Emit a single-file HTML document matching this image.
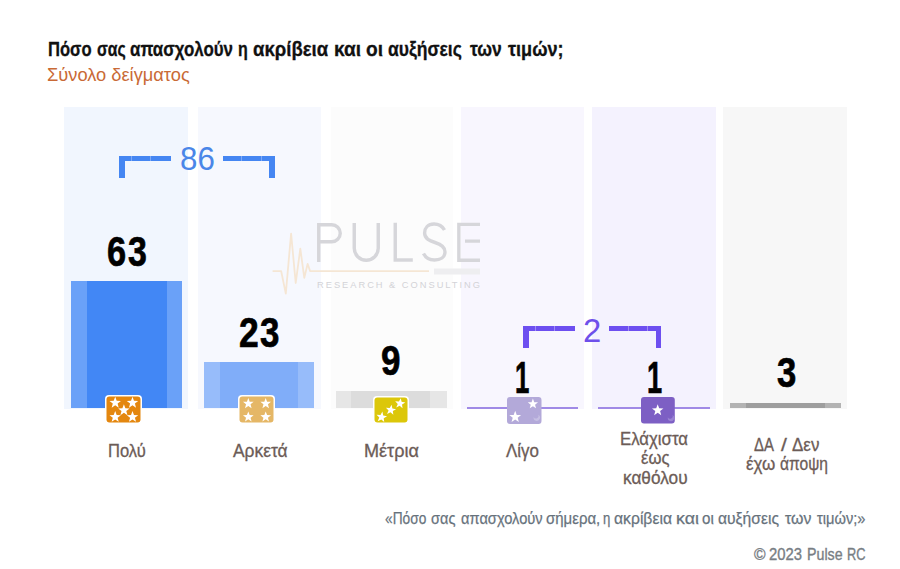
<!DOCTYPE html>
<html><head><meta charset="utf-8">
<style>
*{margin:0;padding:0;box-sizing:border-box}
html,body{width:900px;height:569px;overflow:hidden;background:#fff}
body{position:relative;font-family:"Liberation Sans", sans-serif}
.a{position:absolute}
.t{position:absolute;white-space:nowrap;line-height:1;transform-origin:0 0}
svg{position:absolute;overflow:visible}
</style></head><body>

<div class="a" style="left:64px;top:107px;width:124px;height:302px;background:#f1f6fe"></div>
<div class="a" style="left:198px;top:107px;width:123px;height:302px;background:#f6f8fe"></div>
<div class="a" style="left:331px;top:107px;width:122px;height:302px;background:#fcfcfc"></div>
<div class="a" style="left:461px;top:107px;width:123px;height:302px;background:#f8f6fe"></div>
<div class="a" style="left:592px;top:107px;width:124px;height:302px;background:#f4f2fe"></div>
<div class="a" style="left:723px;top:107px;width:124px;height:302px;background:#f7f7f7"></div>
<svg style="left:0;top:0" width="900" height="569" viewBox="0 0 900 569">
<polyline fill="none" stroke="#f5e6d4" stroke-width="1.8" stroke-linejoin="round" points="272.6,271.2 281.2,271.2 285.8,293.6 291.1,233.6 295.7,283 300.3,248.7 304.3,277.8 307.6,263.9 310.2,271.2 429,271.2"/>
<g fill="none" stroke="#d6d6da" stroke-width="3.4">
<path d="M318.75,262 V224.75 H331.75 A8.5,8.5 0 0 1 331.75,241.75 H318.75"/>
<path d="M354.25,223 V248.25 A12,12 0 0 0 378.25,248.25 V223"/>
<path d="M395.25,222.8 V260 H412.8"/>
<path d="M444.5,230 C442,225.5 437.5,224 434,224 C428,224 424.6,228 424.6,233 C424.6,239 430,241 435,242.5 C441,244.3 445,247 445,252 C445,257 440.5,260 434.5,260 C429.5,260 425.5,257.5 423.5,253.5"/>
<path d="M480,224.4 H458.85 V260.3 H480 M465,241.1 H480"/>
</g>
<rect x="434" y="268.5" width="46" height="6" fill="#eeeef0"/>
<text x="317" y="288" font-family="Liberation Sans" font-size="9.3" fill="#d3d3d7" textLength="163" lengthAdjust="spacing">RESEARCH &amp; CONSULTING</text>
</svg>
<div class="a" style="left:71.0px;top:281.0px;width:111.0px;height:127.0px;background:#6aa1f8"></div>
<div class="a" style="left:87.0px;top:281.0px;width:79.5px;height:127.0px;background:#4287f5"></div>
<div class="a" style="left:204.0px;top:362.0px;width:110.0px;height:46.0px;background:#97bcfa"></div>
<div class="a" style="left:219.6px;top:362.0px;width:78.7px;height:46.0px;background:#80adf9"></div>
<div class="a" style="left:336.0px;top:391.0px;width:110.5px;height:17.0px;background:#e6e6e6"></div>
<div class="a" style="left:351.0px;top:391.0px;width:79.0px;height:17.0px;background:#dcdcdc"></div>
<div class="a" style="left:730.4px;top:403.2px;width:110.6px;height:5.3px;background:#b3b3b3"></div>
<div class="a" style="left:746.0px;top:403.2px;width:79.4px;height:5.3px;background:#9e9e9e"></div>
<div class="a" style="left:467px;top:406.5px;width:111px;height:2px;background:#a08ae6"></div>
<div class="a" style="left:598px;top:406.5px;width:112px;height:2px;background:#a08ae6"></div>
<svg style="left:105.0px;top:395.0px" width="37.0" height="29.0" viewBox="0 0 37.0 29.0"><rect x="0" y="0" width="37.0" height="29.0" rx="4" fill="#fff"/><rect x="1.5" y="1.5" width="34.0" height="26.0" rx="3" fill="#e4870f"/><polygon fill="#fff" points="10.20,1.80 11.68,5.76 15.91,5.95 12.60,8.58 13.73,12.65 10.20,10.32 6.67,12.65 7.80,8.58 4.49,5.95 8.72,5.76"/><polygon fill="#fff" points="27.50,1.80 28.98,5.76 33.21,5.95 29.90,8.58 31.03,12.65 27.50,10.32 23.97,12.65 25.10,8.58 21.79,5.95 26.02,5.76"/><polygon fill="#fff" points="18.90,9.30 20.38,13.26 24.61,13.45 21.30,16.08 22.43,20.15 18.90,17.82 15.37,20.15 16.50,16.08 13.19,13.45 17.42,13.26"/><polygon fill="#fff" points="10.20,16.00 11.68,19.96 15.91,20.15 12.60,22.78 13.73,26.85 10.20,24.52 6.67,26.85 7.80,22.78 4.49,20.15 8.72,19.96"/><polygon fill="#fff" points="27.50,16.00 28.98,19.96 33.21,20.15 29.90,22.78 31.03,26.85 27.50,24.52 23.97,26.85 25.10,22.78 21.79,20.15 26.02,19.96"/></svg>
<svg style="left:238.0px;top:395.0px" width="37.0" height="29.0" viewBox="0 0 37.0 29.0"><rect x="0" y="0" width="37.0" height="29.0" rx="4" fill="#fff"/><rect x="1.5" y="1.5" width="34.0" height="26.0" rx="3" fill="#e5b766"/><polygon fill="#fff" points="10.30,3.00 11.68,6.70 15.63,6.87 12.54,9.33 13.59,13.13 10.30,10.95 7.01,13.13 8.06,9.33 4.97,6.87 8.92,6.70"/><polygon fill="#fff" points="27.70,3.00 29.08,6.70 33.03,6.87 29.94,9.33 30.99,13.13 27.70,10.95 24.41,13.13 25.46,9.33 22.37,6.87 26.32,6.70"/><polygon fill="#fff" points="10.30,16.40 11.68,20.10 15.63,20.27 12.54,22.73 13.59,26.53 10.30,24.35 7.01,26.53 8.06,22.73 4.97,20.27 8.92,20.10"/><polygon fill="#fff" points="27.70,16.40 29.08,20.10 33.03,20.27 29.94,22.73 30.99,26.53 27.70,24.35 24.41,26.53 25.46,22.73 22.37,20.27 26.32,20.10"/></svg>
<svg style="left:373.0px;top:395.9px" width="36.0" height="28.0" viewBox="0 0 36.0 28.0"><rect x="0" y="0" width="36.0" height="28.0" rx="4" fill="#fff"/><rect x="1.5" y="1.5" width="33.0" height="25.0" rx="3" fill="#dcc70a"/><polygon fill="#fff" points="27.75,2.15 28.58,5.87 32.32,6.56 29.04,8.49 29.54,12.27 26.68,9.75 23.25,11.38 24.77,7.89 22.15,5.13 25.94,5.50"/><polygon fill="#fff" points="18.55,8.75 19.38,12.47 23.12,13.16 19.84,15.09 20.34,18.87 17.48,16.35 14.05,17.98 15.57,14.49 12.95,11.73 16.74,12.10"/><polygon fill="#fff" points="9.38,15.55 10.23,19.41 14.11,20.13 10.71,22.13 11.23,26.04 8.27,23.43 4.71,25.13 6.28,21.51 3.57,18.65 7.50,19.02"/></svg>
<svg style="left:507.1px;top:396.7px" width="34.5" height="26.9" viewBox="0 0 34.5 26.9"><rect x="0" y="0" width="34.5" height="26.9" rx="3" fill="#b3a9d9"/><polygon fill="#fff" points="25.90,1.60 27.23,5.17 31.04,5.33 28.06,7.70 29.07,11.37 25.90,9.27 22.73,11.37 23.74,7.70 20.76,5.33 24.57,5.17"/><polygon fill="#fff" points="8.20,13.80 9.73,17.89 14.10,18.08 10.68,20.80 11.84,25.02 8.20,22.60 4.56,25.02 5.72,20.80 2.30,18.08 6.67,17.89"/><path d="M31.2,17.8 a3.2,3.2 0 1 1 -4.5,2.2 a2.4,2.4 0 1 0 4.5,-2.2z" fill="#c6bfe3"/></svg>
<svg style="left:641.1px;top:396.7px" width="33.8" height="26.6" viewBox="0 0 33.8 26.6"><rect x="0" y="0" width="33.8" height="26.6" rx="3" fill="#7d5fc4"/><polygon fill="#fff" points="16.70,7.30 18.18,11.26 22.41,11.45 19.10,14.08 20.23,18.15 16.70,15.82 13.17,18.15 14.30,14.08 10.99,11.45 15.22,11.26"/><path d="M31.4,18.1 a3.2,3.2 0 1 1 -4.5,2.2 a2.4,2.4 0 1 0 4.5,-2.2z" fill="#9a83d2"/></svg>
<div class="a" style="left:119.30px;top:155.70px;width:5.40px;height:22.00px;background:#4586f2"></div>
<div class="a" style="left:119.30px;top:155.70px;width:51.70px;height:5.00px;background:#4586f2"></div>
<div class="a" style="left:222.70px;top:155.70px;width:52.00px;height:5.00px;background:#4586f2"></div>
<div class="a" style="left:269.30px;top:155.70px;width:5.40px;height:22.00px;background:#4586f2"></div>
<div class="a" style="left:130.50px;top:155.70px;width:1.00px;height:5.00px;background:#7eaaf6"></div>
<div class="a" style="left:150.20px;top:155.70px;width:1.00px;height:5.00px;background:#7eaaf6"></div>
<div class="a" style="left:241.20px;top:155.70px;width:1.00px;height:5.00px;background:#7eaaf6"></div>
<div class="a" style="left:261.20px;top:155.70px;width:1.00px;height:5.00px;background:#7eaaf6"></div>
<div class="a" style="left:523.30px;top:326.10px;width:5.40px;height:22.20px;background:#6d4ff0"></div>
<div class="a" style="left:523.30px;top:326.10px;width:51.70px;height:4.90px;background:#6d4ff0"></div>
<div class="a" style="left:609.00px;top:326.10px;width:52.00px;height:4.90px;background:#6d4ff0"></div>
<div class="a" style="left:655.60px;top:326.10px;width:5.40px;height:22.20px;background:#6d4ff0"></div>
<div class="a" style="left:534.50px;top:326.10px;width:1.00px;height:4.90px;background:#a08cf4"></div>
<div class="a" style="left:554.20px;top:326.10px;width:1.00px;height:4.90px;background:#a08cf4"></div>
<div class="a" style="left:627.80px;top:326.10px;width:1.00px;height:4.90px;background:#a08cf4"></div>
<div class="a" style="left:647.20px;top:326.10px;width:1.00px;height:4.90px;background:#a08cf4"></div>
<div class="t" style="left:47.43px;top:65.60px;font-size:18.90px;font-weight:400;color:#c96a36;transform:scaleX(0.9664);">Σύνολο δείγματος</div>
<div class="t" style="left:106.94px;top:230.00px;font-size:42.60px;font-weight:700;color:#000;transform:scaleX(0.8068);-webkit-text-stroke:0.7px #000;">6</div>
<div class="t" style="left:128.40px;top:230.00px;font-size:42.60px;font-weight:700;color:#000;transform:scaleX(0.7955);-webkit-text-stroke:0.7px #000;">3</div>
<div class="t" style="left:238.67px;top:311.40px;font-size:42.60px;font-weight:700;color:#000;transform:scaleX(0.8318);-webkit-text-stroke:0.7px #000;">2</div>
<div class="t" style="left:260.18px;top:311.40px;font-size:42.60px;font-weight:700;color:#000;transform:scaleX(0.8182);-webkit-text-stroke:0.7px #000;">3</div>
<div class="t" style="left:381.48px;top:339.30px;font-size:42.60px;font-weight:700;color:#000;transform:scaleX(0.8227);-webkit-text-stroke:0.7px #000;">9</div>
<div class="t" style="left:514.93px;top:355.60px;font-size:44.00px;font-weight:700;color:#000;transform:scaleX(0.5864);-webkit-text-stroke:0.7px #000;">1</div>
<div class="t" style="left:646.66px;top:355.60px;font-size:44.00px;font-weight:700;color:#000;transform:scaleX(0.6182);-webkit-text-stroke:0.7px #000;">1</div>
<div class="t" style="left:776.69px;top:351.40px;font-size:42.60px;font-weight:700;color:#000;transform:scaleX(0.8136);-webkit-text-stroke:0.7px #000;">3</div>
<div class="t" style="left:107.96px;top:442.90px;font-size:17.60px;font-weight:400;color:#6c5c57;transform:scaleX(0.9410);-webkit-text-stroke:0.3px #6c5c57;">Πολύ</div>
<div class="t" style="left:232.60px;top:442.80px;font-size:17.60px;font-weight:400;color:#6c5c57;transform:scaleX(0.9891);-webkit-text-stroke:0.3px #6c5c57;">Αρκετά</div>
<div class="t" style="left:363.57px;top:442.80px;font-size:17.60px;font-weight:400;color:#6c5c57;transform:scaleX(1.0269);-webkit-text-stroke:0.3px #6c5c57;">Μέτρια</div>
<div class="t" style="left:506.40px;top:442.80px;font-size:17.60px;font-weight:400;color:#6c5c57;transform:scaleX(0.9618);-webkit-text-stroke:0.3px #6c5c57;">Λίγο</div>
<div class="t" style="left:619.85px;top:430.60px;font-size:17.60px;font-weight:400;color:#6c5c57;transform:scaleX(0.9529);-webkit-text-stroke:0.3px #6c5c57;">Ελάχιστα</div>
<div class="t" style="left:640.80px;top:450.30px;font-size:17.60px;font-weight:400;color:#6c5c57;transform:scaleX(0.9467);-webkit-text-stroke:0.3px #6c5c57;">έως</div>
<div class="t" style="left:622.92px;top:470.30px;font-size:17.60px;font-weight:400;color:#6c5c57;transform:scaleX(0.9797);-webkit-text-stroke:0.3px #6c5c57;">καθόλου</div>
<div class="t" style="left:754.40px;top:437.40px;font-size:17.60px;font-weight:400;color:#6c5c57;transform:scaleX(0.8500);-webkit-text-stroke:0.3px #6c5c57;">ΔΑ</div>
<div class="t" style="left:780.80px;top:437.40px;font-size:17.60px;font-weight:400;color:#6c5c57;transform:scaleX(1.2000);-webkit-text-stroke:0.3px #6c5c57;">/</div>
<div class="t" style="left:792.00px;top:437.40px;font-size:17.60px;font-weight:400;color:#6c5c57;transform:scaleX(0.9643);-webkit-text-stroke:0.3px #6c5c57;">Δεν</div>
<div class="t" style="left:746.00px;top:456.40px;font-size:17.60px;font-weight:400;color:#6c5c57;transform:scaleX(0.9667);-webkit-text-stroke:0.3px #6c5c57;">έχω</div>
<div class="t" style="left:779.61px;top:456.40px;font-size:17.60px;font-weight:400;color:#6c5c57;transform:scaleX(0.8868);-webkit-text-stroke:0.3px #6c5c57;">άποψη</div>
<div class="t" style="left:180.14px;top:143.10px;font-size:32.50px;font-weight:400;color:#4a86e8;transform:scaleX(0.9618);">86</div>
<div class="t" style="left:582.91px;top:313.60px;font-size:33.00px;font-weight:400;color:#6e50ea;transform:scaleX(0.9933);">2</div>
<div class="t" style="left:753.50px;top:546.30px;font-size:16.40px;font-weight:400;color:#787e84;transform:scaleX(0.9583);-webkit-text-stroke:0.35px #787e84;">©</div>
<div class="t" style="left:769.09px;top:546.30px;font-size:16.40px;font-weight:400;color:#787e84;transform:scaleX(0.9057);-webkit-text-stroke:0.35px #787e84;">2023</div>
<div class="t" style="left:806.93px;top:546.30px;font-size:16.40px;font-weight:400;color:#787e84;transform:scaleX(0.8675);-webkit-text-stroke:0.35px #787e84;">Pulse</div>
<div class="t" style="left:847.02px;top:546.30px;font-size:16.40px;font-weight:400;color:#787e84;transform:scaleX(0.7818);-webkit-text-stroke:0.35px #787e84;">RC</div>
<div class="t" style="left:47.87px;top:38.60px;font-size:20.00px;font-weight:700;color:#111111;transform:scaleX(0.8294);-webkit-text-stroke:0.3px #111;">Πόσο</div>
<div class="t" style="left:96.51px;top:38.60px;font-size:20.00px;font-weight:700;color:#111111;transform:scaleX(0.7914);-webkit-text-stroke:0.3px #111;">σας</div>
<div class="t" style="left:130.46px;top:38.60px;font-size:20.00px;font-weight:700;color:#111111;transform:scaleX(0.8450);-webkit-text-stroke:0.3px #111;">απασχολούν</div>
<div class="t" style="left:238.20px;top:38.60px;font-size:20.00px;font-weight:700;color:#111111;transform:scaleX(0.8000);-webkit-text-stroke:0.3px #111;">η</div>
<div class="t" style="left:253.07px;top:38.60px;font-size:20.00px;font-weight:700;color:#111111;transform:scaleX(0.9288);-webkit-text-stroke:0.3px #111;">ακρίβεια</div>
<div class="t" style="left:334.05px;top:38.60px;font-size:20.00px;font-weight:700;color:#111111;transform:scaleX(0.9519);-webkit-text-stroke:0.3px #111;">και</div>
<div class="t" style="left:366.04px;top:38.60px;font-size:20.00px;font-weight:700;color:#111111;transform:scaleX(0.9563);-webkit-text-stroke:0.3px #111;">οι</div>
<div class="t" style="left:388.12px;top:38.60px;font-size:20.00px;font-weight:700;color:#111111;transform:scaleX(0.8771);-webkit-text-stroke:0.3px #111;">αυξήσεις</div>
<div class="t" style="left:469.80px;top:38.60px;font-size:20.00px;font-weight:700;color:#111111;transform:scaleX(0.8750);-webkit-text-stroke:0.3px #111;">των</div>
<div class="t" style="left:508.00px;top:38.60px;font-size:20.00px;font-weight:700;color:#111111;transform:scaleX(0.9050);-webkit-text-stroke:0.3px #111;">τιμών;</div>
<div class="t" style="left:384.99px;top:510.00px;font-size:17.00px;font-weight:400;color:#67727c;transform:scaleX(0.8080);-webkit-text-stroke:0.25px #67727c;">«Πόσο</div>
<div class="t" style="left:430.74px;top:510.00px;font-size:17.00px;font-weight:400;color:#67727c;transform:scaleX(0.8556);-webkit-text-stroke:0.25px #67727c;">σας</div>
<div class="t" style="left:460.74px;top:510.00px;font-size:17.00px;font-weight:400;color:#67727c;transform:scaleX(0.8624);-webkit-text-stroke:0.25px #67727c;">απασχολούν</div>
<div class="t" style="left:545.82px;top:510.00px;font-size:17.00px;font-weight:400;color:#67727c;transform:scaleX(0.8814);-webkit-text-stroke:0.25px #67727c;">σήμερα,</div>
<div class="t" style="left:603.12px;top:510.00px;font-size:17.00px;font-weight:400;color:#67727c;transform:scaleX(0.7750);-webkit-text-stroke:0.25px #67727c;">η</div>
<div class="t" style="left:614.08px;top:510.00px;font-size:17.00px;font-weight:400;color:#67727c;transform:scaleX(0.9242);-webkit-text-stroke:0.25px #67727c;">ακρίβεια</div>
<div class="t" style="left:676.06px;top:510.00px;font-size:17.00px;font-weight:400;color:#67727c;transform:scaleX(1.0450);-webkit-text-stroke:0.25px #67727c;">και</div>
<div class="t" style="left:702.01px;top:510.00px;font-size:17.00px;font-weight:400;color:#67727c;transform:scaleX(0.8917);-webkit-text-stroke:0.25px #67727c;">οι</div>
<div class="t" style="left:718.38px;top:510.00px;font-size:17.00px;font-weight:400;color:#67727c;transform:scaleX(0.9200);-webkit-text-stroke:0.25px #67727c;">αυξήσεις</div>
<div class="t" style="left:784.90px;top:510.00px;font-size:17.00px;font-weight:400;color:#67727c;transform:scaleX(0.9357);-webkit-text-stroke:0.25px #67727c;">των</div>
<div class="t" style="left:816.90px;top:510.00px;font-size:17.00px;font-weight:400;color:#67727c;transform:scaleX(0.8625);-webkit-text-stroke:0.25px #67727c;">τιμών;»</div>
</body></html>
